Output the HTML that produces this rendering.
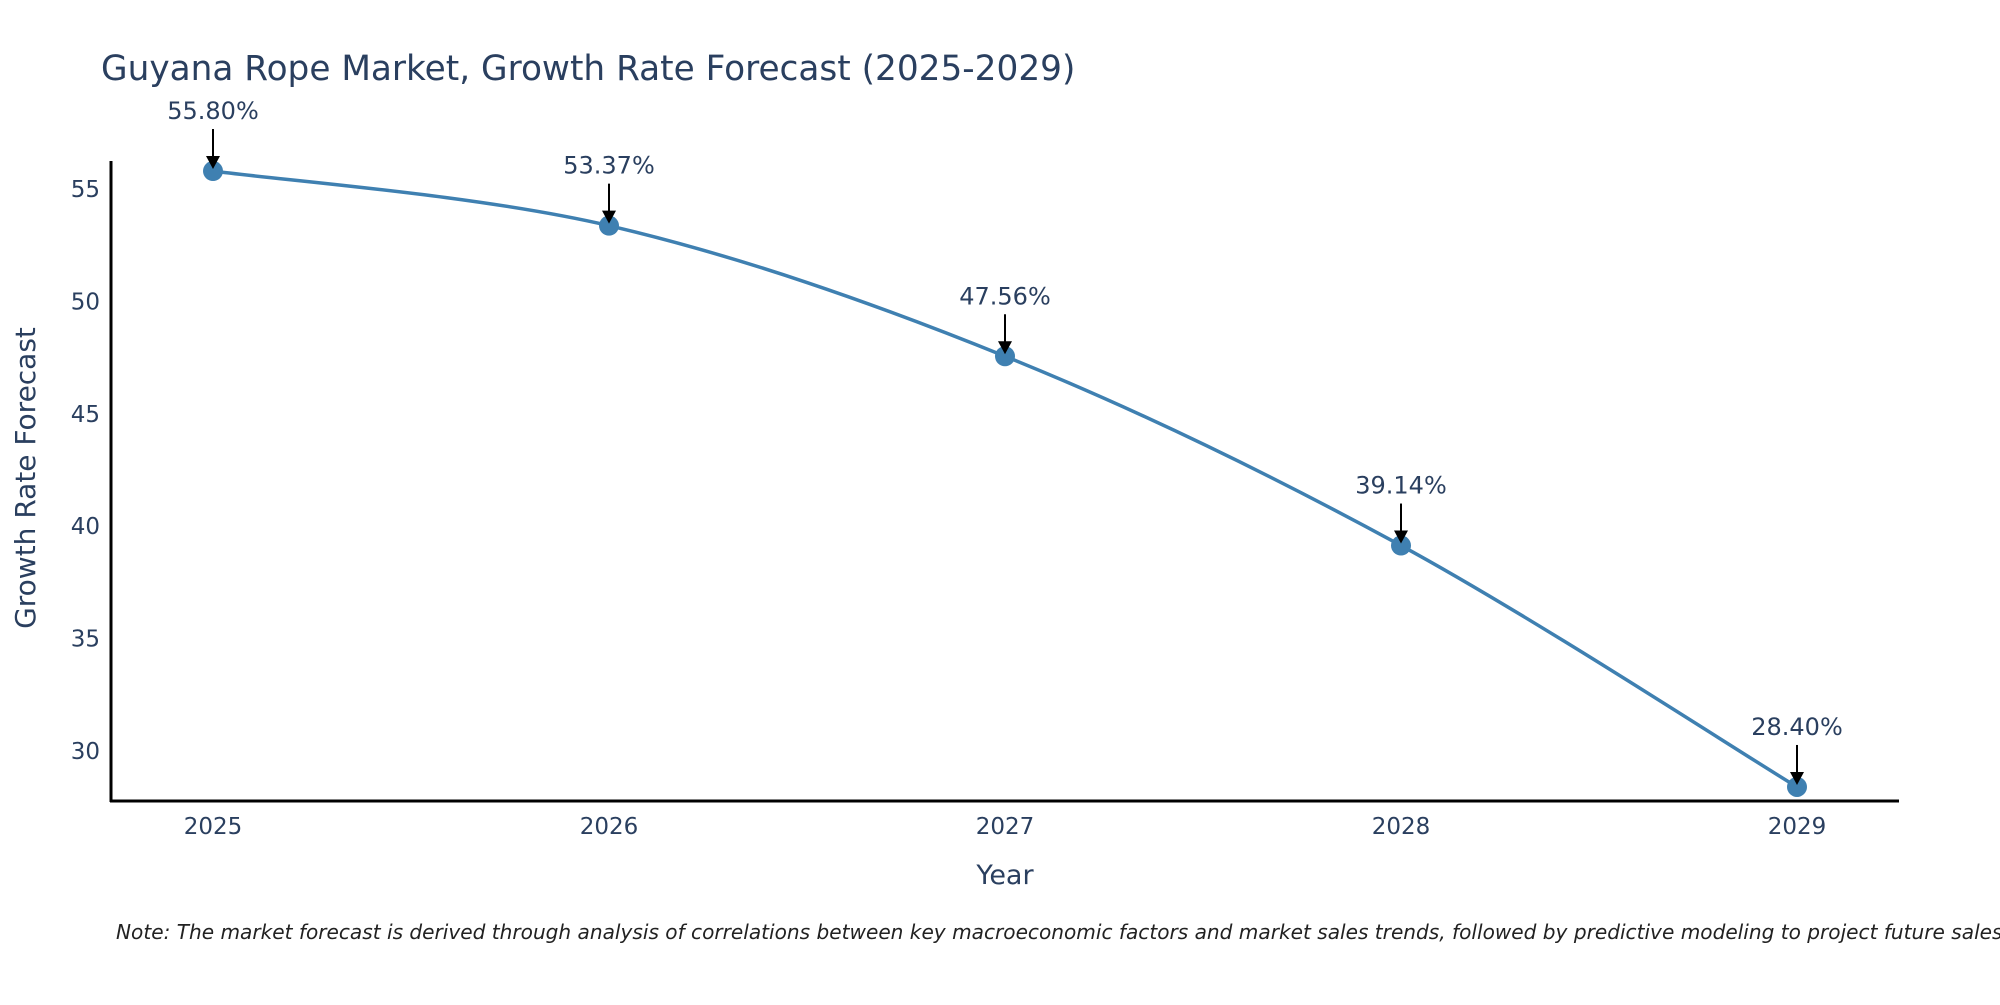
<!DOCTYPE html>
<html><head><meta charset="utf-8"><style>
body{margin:0;background:#fff;overflow:hidden;}
svg text{font-family:"DejaVu Sans","Liberation Sans",sans-serif;fill:#2a3f5f;}
</style></head><body>
<svg width="2000" height="1000" xmlns="http://www.w3.org/2000/svg">
<text x="101" y="80" font-size="34.3">Guyana Rope Market, Growth Rate Forecast (2025-2029)</text>
<g id="axes"></g>
<g id="plot"></g>
<text x="1005" y="884" font-size="27" text-anchor="middle">Year</text>
<text transform="translate(35,478) rotate(-90)" font-size="28" text-anchor="middle">Growth Rate Forecast</text>
<text x="116" y="939" font-size="20.1" font-style="italic" style="fill:#222">Note: The market forecast is derived through analysis of correlations between key macroeconomic factors and market sales trends, followed by predictive modeling to project future sales</text>
</svg>
<script>
const years=[2025,2026,2027,2028,2029];
const values=[55.80,53.37,47.56,39.14,28.40];
const labels=["55.80%","53.37%","47.56%","39.14%","28.40%"];
const yTicks=[30,35,40,45,50,55];
const NS="http://www.w3.org/2000/svg";
const X=v=>213+(v-2025)*(1797-213)/4;
const Y=v=>189-(v-55)*22.48;
function mk(t,a,p){const e=document.createElementNS(NS,t);for(const k in a)e.setAttribute(k,a[k]);(p||document.getElementById('plot')).appendChild(e);return e;}
const ax=document.getElementById('axes');
let e=mk('line',{x1:111,y1:161,x2:111,y2:802,stroke:'#000','stroke-width':3},ax);


e=mk('line',{x1:110,y1:801,x2:1899,y2:801,stroke:'#000','stroke-width':3},ax);


yTicks.forEach(t=>{const el=mk('text',{x:100,y:Y(t)+8,'font-size':23,'text-anchor':'end'},ax);el.textContent=t;

});
years.forEach(t=>{const el=mk('text',{x:X(t),y:834,'font-size':23,'text-anchor':'middle'},ax);el.textContent=t;

});
const pts=years.map((y,i)=>[X(y),Y(values[i])]);
let d=`M${pts[0][0]},${pts[0][1]}`;
for(let i=0;i<pts.length-1;i++){const p0=pts[Math.max(0,i-1)],p1=pts[i],p2=pts[i+1],p3=pts[Math.min(pts.length-1,i+2)];
d+=` C${p1[0]+(p2[0]-p0[0])/6},${p1[1]+(p2[1]-p0[1])/6} ${p2[0]-(p3[0]-p1[0])/6},${p2[1]-(p3[1]-p1[1])/6} ${p2[0]},${p2[1]}`;}
e=mk('path',{d:d,fill:'none',stroke:'#3f80b1','stroke-width':3.5});


pts.forEach((p,i)=>{
const c=mk('circle',{cx:p[0],cy:p[1],r:10,fill:'#3f80b1'});


const l=mk('line',{x1:p[0],y1:p[1]-42,x2:p[0],y2:p[1]-12,stroke:'#000','stroke-width':2});


const h=mk('path',{d:`M${p[0]-7},${p[1]-15} L${p[0]+7},${p[1]-15} L${p[0]},${p[1]-2} Z`,fill:'#000'});


const t=mk('text',{x:p[0],y:p[1]-52,'font-size':24,'text-anchor':'middle'});t.textContent=labels[i];


});
</script>
</body></html>
